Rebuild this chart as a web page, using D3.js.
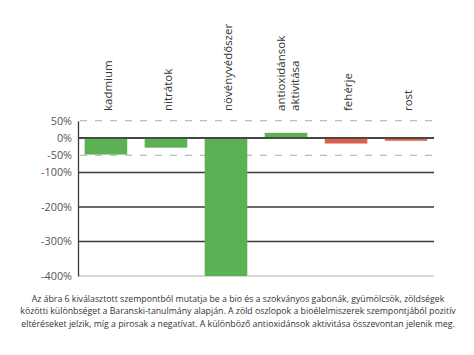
<!DOCTYPE html>
<html><head><meta charset="utf-8">
<script src="https://cdn.jsdelivr.net/npm/d3@7"></script>
<style>body{margin:0;background:#fff}svg{display:block}</style>
</head><body>
<script>
const categories = [["kadmium"],["nitrátok"],["növényvédőszer"],["antioxidánsok","aktivitása"],["fehérje"],["rost"]];
const values = [-48, -28, -400, 15, -16, -8];
const tickValues = [50, 0, -50, -100, -200, -300, -400];
const solidGrid = [0, -100, -200, -300];
const dashedGrid = [50, -50];
const caption = [
  "Az ábra 6 kiválasztott szempontból mutatja be a bio és a szokványos gabonák, gyümölcsök, zöldségek",
  "közötti különbséget a Baranski-tanulmány alapján. A zöld oszlopok a bioélelmiszerek szempontjából pozitív",
  "eltéréseket jelzik, míg a pirosak a negatívat. A különböző antioxidánsok aktivitása összevontan jelenik meg."
];

const W = 474, H = 355;
const svg = d3.select("body").append("svg").attr("width", W).attr("height", H);
const font = "'Open Sans', sans-serif";

const x = d3.scaleBand().domain(d3.range(categories.length)).range([78, 434]).paddingInner(0.29).paddingOuter(0.11);
const y = d3.scaleLinear().domain([-400, 50]).range([276, 120.75]);

// dashed grid
svg.selectAll("line.dash").data(dashedGrid).enter().append("line")
  .attr("x1", 80).attr("x2", 434).attr("y1", d => y(d)).attr("y2", d => y(d))
  .attr("stroke", "#aaa").attr("stroke-width", 1.2).attr("stroke-dasharray", "7,8");

// solid grid
svg.selectAll("line.solid").data(solidGrid).enter().append("line")
  .attr("x1", 78).attr("x2", 434).attr("y1", d => y(d)).attr("y2", d => y(d))
  .attr("stroke", "#3a3a3a").attr("stroke-width", 1.3);
svg.append("line").attr("x1", 78).attr("x2", 434).attr("y1", y(-400)).attr("y2", y(-400))
  .attr("stroke", "#c8c8c8").attr("stroke-width", 1.3);

// bars
svg.selectAll("rect.bar").data(values).enter().append("rect")
  .attr("x", (d, i) => x(i)).attr("width", x.bandwidth())
  .attr("y", d => d < -100 ? y(0) + 1 : y(Math.max(0, d)))
  .attr("height", d => d < -100 ? Math.abs(y(d) - y(0)) - 1 : Math.abs(y(d) - y(0)))
  .attr("fill", d => d < 0 && d > -20 ? "#d8634d" : "#5cb155");

// zero line on top of small bars
svg.append("line").attr("x1", 78).attr("x2", 434).attr("y1", y(0)).attr("y2", y(0))
  .attr("stroke", "#3a3a3a").attr("stroke-width", 1.3);

// y axis
const yAxis = d3.axisLeft(y).tickValues(tickValues).tickSize(0).tickSizeOuter(0).tickPadding(6).tickFormat(d => d + "%");
const ga = svg.append("g").attr("transform", "translate(78,0)").call(yAxis);
ga.select(".domain").attr("stroke", "#3a3a3a").attr("stroke-width", 1.3);
ga.selectAll("text").attr("font-family", font).attr("font-size", 10.8).attr("fill", "#555");

// category labels
categories.forEach((lines, i) => {
  const cx = x(i) + x.bandwidth() / 2;
  const n = lines.length;
  lines.forEach((t, j) => {
    const off = (j - (n - 1) / 2) * 14 + 2;
    svg.append("text")
      .attr("transform", `translate(${cx + off},111) rotate(-90)`)
      .attr("dy", "0.35em")
      .attr("font-family", font).attr("font-size", 11.5).attr("fill", "#333")
      .text(t);
  });
});

// caption
svg.selectAll("text.cap").data(caption).enter().append("text")
  .attr("x", 238).attr("y", (d, i) => 302 + i * 12.3)
  .attr("text-anchor", "middle").attr("font-family", font).attr("font-size", 8.75).attr("fill", "#333")
  .text(d => d);
</script>
</body></html>
